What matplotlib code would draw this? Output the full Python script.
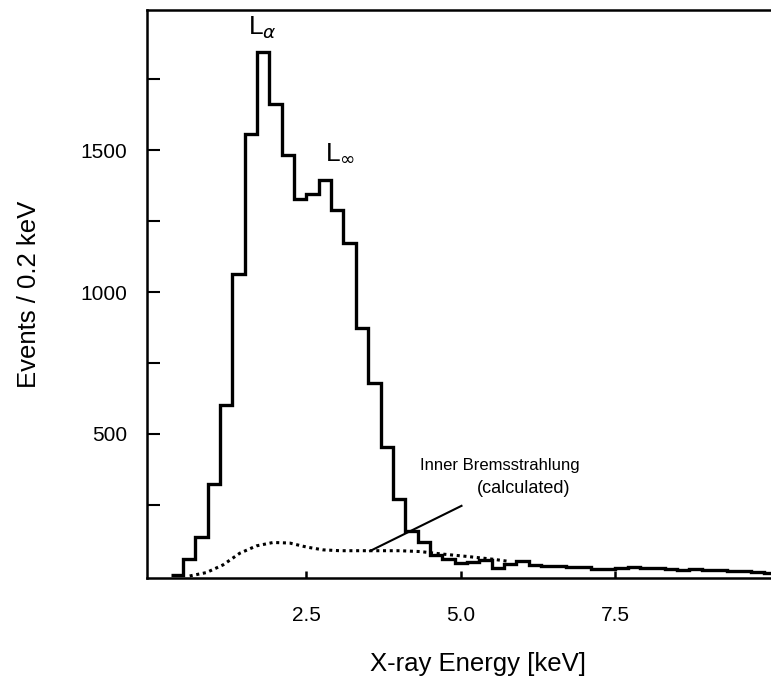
import numpy as np
import matplotlib
matplotlib.use("Agg")
import matplotlib.pyplot as plt

plt.rcParams['font.family'] = ['Liberation Sans', 'DejaVu Sans']

# histogramm, bins de 0.2 keV
bin_edges = np.round(np.arange(0.3, 10.1 + 0.001, 0.2), 2)
counts = [5, 60, 136, 323, 603, 1064, 1555, 1845, 1661, 1484,
          1328, 1346, 1393, 1289, 1173, 875, 680, 453, 270, 160,
          118, 73, 60, 46, 51, 55, 27, 41, 52, 38,
          35, 36, 30, 32, 26, 24, 28, 30, 28, 27,
          25, 22, 24, 22, 20, 18, 16, 14, 12]

# inner bremsstrahlung (calculada), curva punteada
ib_energy = [0.61, 0.88, 1.15, 1.42, 1.69, 1.96, 2.23, 2.50, 2.77, 3.04,
             3.58, 4.01, 4.34, 4.71, 5.09, 5.52, 5.79]
ib_counts = [0, 12, 39, 80, 106, 118, 116, 102, 92, 89,
             89, 89, 86, 77, 69, 59, 51]

fig = plt.figure(figsize=(7.71, 6.87), dpi=100)
ax = fig.add_axes([0.1907, 0.1587, 0.8093, 0.8267])

ax.stairs(counts, bin_edges, color='black', lw=2.4, baseline=None)
ax.plot(ib_energy, ib_counts, color='black', lw=2.2, linestyle=(0, (1, 1.2)))

# linea que señala la curva
ax.plot([3.53, 5.01], [88, 247], color='black', lw=1.5)
ax.text(5.63, 390, 'Inner Bremsstrahlung', ha='center', va='center', fontsize=12)
ax.text(6.02, 308, '(calculated)', ha='center', va='center', fontsize=13)

ax.text(1.78, 1930, r'L$_\alpha$', ha='center', va='center', fontsize=19)
ax.text(3.05, 1490, r'L$_\infty$', ha='center', va='center', fontsize=19)

ax.set_xlim(-0.08, 10.02)
ax.set_ylim(-7, 1993)

ax.set_xticks([2.5, 5.0, 7.5])
ax.set_xticklabels(['2.5', '5.0', '7.5'])
ax.set_yticks([500, 1000, 1500])
ax.set_yticks([250, 750, 1250, 1750], minor=True)
ax.tick_params(axis='x', direction='in', length=5, width=1.8, pad=20, labelsize=15)
ax.tick_params(axis='y', which='both', direction='in', length=9, width=1.5, pad=14, labelsize=15)

for s in ['left', 'bottom', 'top']:
    ax.spines[s].set_linewidth(1.8)
ax.spines['right'].set_visible(False)

ax.set_xlabel('X-ray Energy [keV]', fontsize=18.5)
ax.xaxis.set_label_coords(0.53, -0.13)
ax.set_ylabel('Events / 0.2 keV', fontsize=18.5)
ax.yaxis.set_label_coords(-0.17, 0.5)

fig.savefig('out.png', dpi=100)
